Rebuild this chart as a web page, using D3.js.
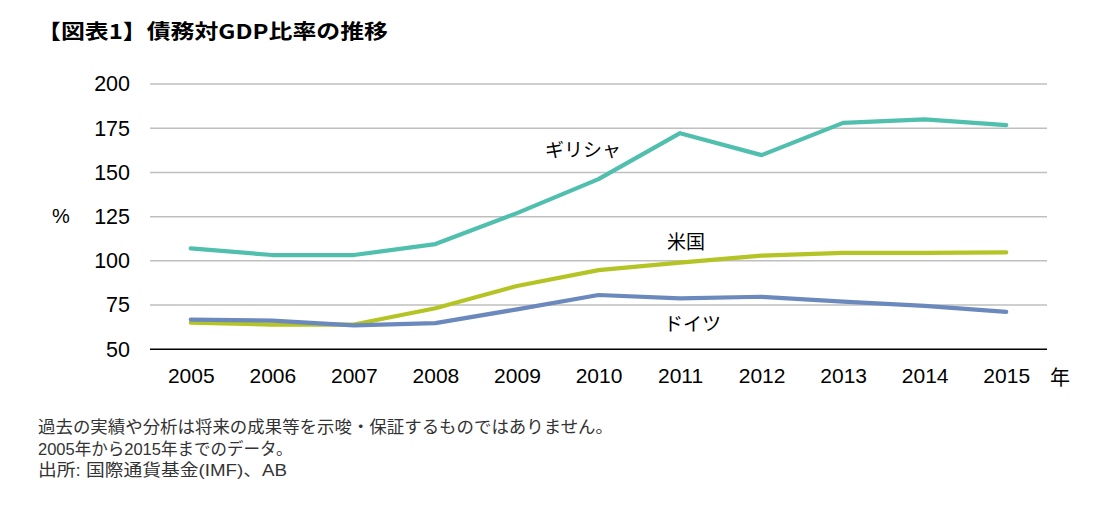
<!DOCTYPE html>
<html>
<head>
<meta charset="utf-8">
<script src="https://cdn.jsdelivr.net/npm/d3@7"></script>
<style>
  html, body { margin: 0; padding: 0; background: #fff; }
  svg { display: block; }
  text { font-family: "Liberation Sans", Arial, "Noto Sans CJK JP", sans-serif; }
  .jp { font-family: "Noto Sans CJK JP", sans-serif; }
  .note { font-family: "Liberation Sans", Arial, "Noto Sans CJK JP", sans-serif; }
</style>
</head>
<body>
<svg id="chart" width="1108" height="514"></svg>
<script>
const years = ["2005","2006","2007","2008","2009","2010","2011","2012","2013","2014","2015"];
const greece  = [107.1, 103.3, 103.3, 109.5, 127.0, 146.2, 172.2, 159.8, 178.0, 180.0, 176.8];
const usa     = [65.0, 64.0, 64.0, 73.2, 85.8, 94.8, 99.0, 103.0, 104.5, 104.5, 104.8];
const germany = [66.8, 66.2, 63.5, 64.8, 72.6, 80.7, 78.8, 79.7, 77.0, 74.6, 71.2];
const yTicks  = [50, 75, 100, 125, 150, 175, 200];
const seriesNames = ["ギリシャ", "米国", "ドイツ"];
const colors = ["#50BFAD", "#B5C425", "#6C89BE"];

const svg = d3.select("#chart");
const pLeft = 150, pRight = 1047, pTop = 84, pBottom = 349.3;

const x = d3.scalePoint().domain(years).range([pLeft, pRight]).padding(0.5);
const y = d3.scaleLinear().domain([50, 200]).range([pBottom, pTop]);

// title
svg.append("text").attr("class", "jp")
  .attr("x", 37).attr("y", 39)
  .attr("font-size", 20.5).attr("font-weight", "bold").attr("fill", "#000")
  .attr("textLength", 351).attr("lengthAdjust", "spacingAndGlyphs")
  .text("【図表1】債務対GDP比率の推移");

// gridlines
svg.append("g").selectAll("line").data(yTicks.filter(d => d !== 50)).join("line")
  .attr("x1", pLeft).attr("x2", pRight)
  .attr("y1", d => y(d)).attr("y2", d => y(d))
  .attr("stroke", "#BFBFBF").attr("stroke-width", 1.5);

// y axis labels
const yAxis = d3.axisLeft(y).tickValues(yTicks).tickSize(0).tickPadding(0);
const gy = svg.append("g").attr("transform", `translate(${pLeft - 20},0)`).call(yAxis);
gy.select(".domain").remove();
gy.selectAll("text").attr("font-size", 21.5).attr("fill", "#000")
  .attr("font-family", "Liberation Sans, Arial, sans-serif");

// x axis
const xAxis = d3.axisBottom(x).tickSize(0).tickPadding(19);
const gx = svg.append("g").attr("transform", `translate(0,${pBottom})`).call(xAxis);
gx.select(".domain").attr("stroke", "#000").attr("stroke-width", 1.5)
  .attr("d", `M${pLeft},0H${pRight}`);
gx.selectAll("text").attr("font-size", 21).attr("fill", "#000")
  .attr("font-family", "Liberation Sans, Arial, sans-serif");

// unit labels
svg.append("text").attr("x", 52).attr("y", 223).attr("font-size", 20).attr("fill", "#000").text("%");
svg.append("text").attr("class", "jp").attr("x", 1050).attr("y", 385)
  .attr("font-size", 20).attr("fill", "#000").text("年");

// lines
const line = d3.line().x((d, i) => x(years[i])).y(d => y(d));
[greece, usa, germany].forEach((s, i) => {
  svg.append("path").datum(s)
    .attr("d", line).attr("fill", "none")
    .attr("stroke", colors[i]).attr("stroke-width", 4.2)
    .attr("stroke-linejoin", "round").attr("stroke-linecap", "round");
});

// series labels
const labelPos = [[545, 157], [667, 249], [664, 331]];
seriesNames.forEach((n, i) => {
  svg.append("text").attr("class", "jp")
    .attr("x", labelPos[i][0]).attr("y", labelPos[i][1])
    .attr("font-size", 19).attr("fill", "#000").text(n);
});

// footnotes
const notes = [
  ["過去の実績や分析は将来の成果等を示唆・保証するものではありません。", 575],
  ["2005年から2015年までのデータ。", null],
  ["出所: 国際通貨基金(IMF)、AB", 249]
];
notes.forEach((n, i) => {
  const t = svg.append("text").attr("class", "note")
    .attr("x", 38).attr("y", 433 + i * 21.5)
    .attr("font-size", 16.5).attr("fill", "#333")
    .text(n[0]);
  if (n[1]) t.attr("textLength", n[1]).attr("lengthAdjust", "spacingAndGlyphs");
});
</script>
</body>
</html>
